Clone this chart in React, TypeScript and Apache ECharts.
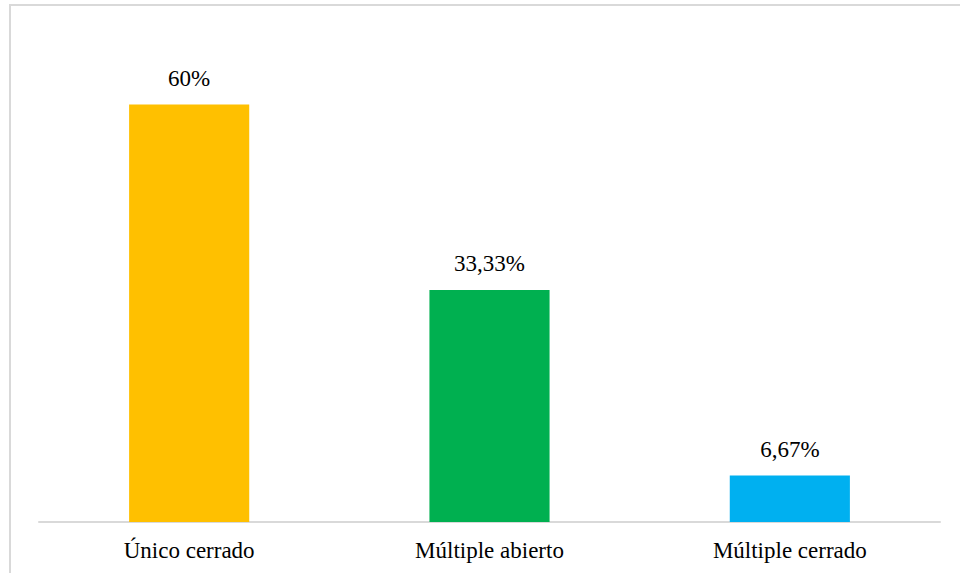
import React, { useEffect, useRef } from "react";
import * as echarts from "echarts";

const categories = ["Único cerrado", "Múltiple abierto", "Múltiple cerrado"];
const values = [60, 33.33, 6.67];
const valueLabels = ["60%", "33,33%", "6,67%"];
const barColors = ["#FFC000", "#00B050", "#00B0F0"];

const FONT = "Liberation Serif";

export default function App() {
  const ref = useRef<HTMLDivElement>(null);

  useEffect(() => {
    document.body.style.margin = "0";
    if (!ref.current) return;
    const chart = echarts.init(ref.current, undefined, { renderer: "svg" });
    chart.setOption({
      animation: false,
      backgroundColor: "#ffffff",
      textStyle: { fontFamily: FONT },
      graphic: [
        {
          type: "rect",
          shape: { x: 10, y: 5, width: 960, height: 600 },
          style: { fill: "none", stroke: "#d9d9d9", lineWidth: 2 },
          silent: true,
        },
      ],
      grid: { left: 39, right: 20, top: 35, bottom: 51 },
      xAxis: {
        type: "category",
        data: categories,
        axisLine: { show: true, lineStyle: { color: "#d9d9d9", width: 2 } },
        axisTick: { show: false },
        axisLabel: {
          color: "#000000",
          fontFamily: FONT,
          fontSize: 23,
          margin: 17,
        },
      },
      yAxis: {
        type: "value",
        min: 0,
        max: 70,
        show: false,
        splitLine: { show: false },
      },
      series: [
        {
          type: "bar",
          barWidth: "40%",
          data: values.map((v, i) => ({
            value: v,
            itemStyle: { color: barColors[i] },
          })),
          label: {
            show: true,
            position: "top",
            distance: 15,
            color: "#000000",
            fontFamily: FONT,
            fontSize: 23,
            formatter: (p: any) => valueLabels[p.dataIndex],
          },
        },
      ],
    });
    return () => chart.dispose();
  }, []);

  return <div ref={ref} style={{ width: 960, height: 573 }} />;
}
